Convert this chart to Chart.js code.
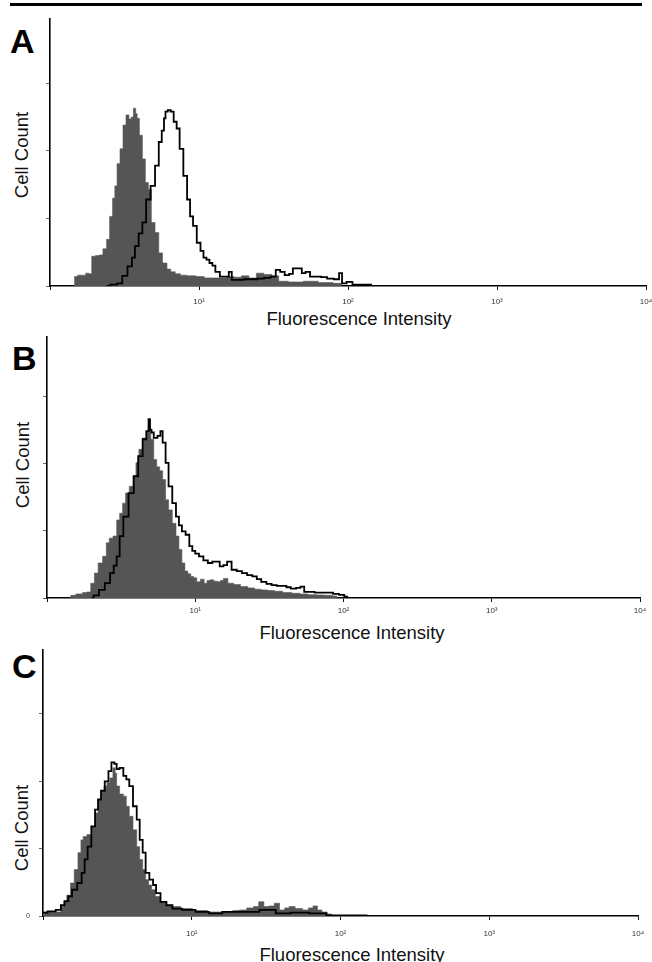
<!DOCTYPE html>
<html><head><meta charset="utf-8">
<script src="https://cdn.jsdelivr.net/npm/chart.js@4.4.1/dist/chart.umd.min.js"></script>
<style>
html,body{margin:0;padding:0;background:#fff;width:652px;height:962px;overflow:hidden;position:relative;}
canvas{position:absolute;left:0;}
.letter{position:absolute;font-family:"Liberation Sans",Arial,sans-serif;font-weight:bold;font-size:34px;line-height:34px;color:#000;}
.ytitle{position:absolute;font-family:"Liberation Sans",Arial,sans-serif;font-size:18.5px;color:#111;white-space:nowrap;transform:translate(-50%,-50%) rotate(-90deg);}
.xtitle{position:absolute;font-family:"Liberation Sans",Arial,sans-serif;font-size:18.5px;color:#111;white-space:nowrap;transform:translate(-50%,-50%);}
#rule{position:absolute;left:10px;top:3px;width:632px;height:3px;background:#000;}
</style></head><body>
<div id="rule"></div>
<div class="letter" style="left:10px;top:23.5px">A</div>
<div class="letter" style="left:12px;top:340.5px">B</div>
<div class="letter" style="left:12px;top:648.5px">C</div>
<div class="ytitle" style="left:22px;top:155px">Cell Count</div>
<div class="ytitle" style="left:23px;top:465px">Cell Count</div>
<div class="ytitle" style="left:22px;top:828px">Cell Count</div>
<div class="xtitle" style="left:359px;top:319px">Fluorescence Intensity</div>
<div class="xtitle" style="left:352px;top:633px">Fluorescence Intensity</div>
<div class="xtitle" style="left:352px;top:955px">Fluorescence Intensity</div>
<canvas id="cA" width="652" height="335" style="top:0px"></canvas>
<canvas id="cB" width="652" height="315" style="top:330px"></canvas>
<canvas id="cC" width="652" height="330" style="top:645px"></canvas>
<script>
// x values are log10 of fluorescence intensity (decades), y values are cell count (axis units)
const tickLabels = ['', '10\u00B9', '10\u00B2', '10\u00B3', '10\u2074'];

// Panel A
const aGrayX = [0.16,0.17,0.20,0.23,0.25,0.27,0.29,0.32,0.34,0.37,0.39,0.41,0.43,0.44,0.46,0.48,0.50,0.52,0.54,0.55,0.57,0.58,0.59,0.61,0.63,0.65,0.67,0.69,0.72,0.74,0.77,0.80,0.82,0.86,0.89,0.95,1.01,1.06,1.12,1.16,1.21,1.26,1.31,1.36,1.41,1.46,1.52,1.55,1.65,1.75,1.85,1.95,1.96];
const aGrayY = [0,0.14,0.16,0.16,0.19,0.18,0.44,0.45,0.46,0.55,0.69,1.03,1.30,1.48,1.81,2.03,2.38,2.53,2.47,2.50,2.63,2.55,2.48,2.23,1.88,1.53,1.43,0.94,0.79,0.49,0.34,0.25,0.21,0.18,0.16,0.15,0.14,0.12,0.12,0.12,0.14,0.13,0.15,0.12,0.19,0.17,0.15,0.07,0.06,0.07,0.05,0.04,0];
const aLineX = [0.38,0.43,0.47,0.50,0.54,0.56,0.58,0.61,0.63,0.66,0.69,0.72,0.74,0.76,0.77,0.78,0.80,0.82,0.84,0.86,0.88,0.91,0.93,0.95,0.97,1.00,1.02,1.04,1.06,1.08,1.10,1.12,1.16,1.19,1.21,1.23,1.28,1.32,1.37,1.41,1.46,1.50,1.53,1.56,1.59,1.62,1.64,1.68,1.70,1.73,1.76,1.80,1.84,1.88,1.93,1.95,1.97,2.01,2.05,2.10,2.15,2.16];
const aLineY = [0,0.02,0.04,0.15,0.29,0.42,0.59,0.78,0.94,1.28,1.48,1.78,2.13,2.30,2.48,2.58,2.60,2.58,2.43,2.33,2.03,1.63,1.28,1.03,0.89,0.64,0.52,0.42,0.39,0.34,0.30,0.21,0.14,0.14,0.21,0.09,0.09,0.10,0.10,0.11,0.12,0.14,0.24,0.21,0.16,0.18,0.26,0.26,0.19,0.21,0.14,0.14,0.13,0.11,0.10,0.19,0.04,0.06,0.02,0.02,0.02,0];

// Panel B
const bGrayX = [0.15,0.17,0.22,0.26,0.28,0.31,0.33,0.36,0.39,0.41,0.43,0.46,0.48,0.50,0.52,0.54,0.57,0.59,0.61,0.63,0.66,0.68,0.69,0.71,0.73,0.75,0.77,0.79,0.81,0.83,0.86,0.88,0.90,0.92,0.94,0.96,0.98,1.00,1.02,1.05,1.07,1.09,1.11,1.14,1.16,1.18,1.20,1.24,1.28,1.33,1.38,1.42,1.47,1.51,1.56,1.62,1.68,1.73,1.79,1.84,1.90,1.95,1.96];
const bGrayY = [0,0.04,0.06,0.08,0.09,0.22,0.37,0.52,0.62,0.82,0.89,0.92,1.16,1.26,1.41,1.56,1.66,1.81,2.01,2.21,2.38,2.48,2.53,2.36,2.06,1.95,1.89,1.76,1.46,1.31,1.11,0.92,0.72,0.52,0.40,0.36,0.32,0.30,0.24,0.28,0.22,0.26,0.27,0.25,0.24,0.26,0.29,0.22,0.20,0.17,0.15,0.13,0.12,0.11,0.10,0.08,0.07,0.06,0.05,0.045,0.04,0.03,0];
const bLineX = [0.30,0.33,0.37,0.41,0.44,0.46,0.48,0.50,0.53,0.57,0.60,0.63,0.66,0.68,0.69,0.70,0.71,0.73,0.76,0.77,0.79,0.81,0.83,0.86,0.88,0.90,0.92,0.95,0.97,0.99,1.01,1.04,1.07,1.10,1.13,1.15,1.18,1.20,1.23,1.26,1.30,1.33,1.37,1.40,1.43,1.46,1.50,1.53,1.57,1.60,1.63,1.66,1.70,1.72,1.75,1.79,1.82,1.87,1.91,1.95,1.99,2.02,2.03];
const bLineY = [0,0.04,0.12,0.22,0.37,0.48,0.62,0.92,1.21,1.56,1.81,2.11,2.36,2.48,2.66,2.50,2.46,2.38,2.41,2.48,2.31,2.01,1.66,1.41,1.21,1.08,0.99,0.94,0.77,0.70,0.66,0.62,0.56,0.52,0.54,0.54,0.47,0.49,0.54,0.42,0.40,0.37,0.34,0.32,0.28,0.24,0.21,0.19,0.18,0.18,0.16,0.14,0.15,0.17,0.09,0.09,0.08,0.08,0.08,0.06,0.045,0.02,0];

// Panel C
const cGrayX = [0.00,0.05,0.11,0.13,0.15,0.17,0.20,0.22,0.25,0.26,0.28,0.31,0.34,0.36,0.38,0.40,0.42,0.44,0.46,0.48,0.49,0.50,0.53,0.55,0.57,0.59,0.62,0.64,0.66,0.68,0.70,0.72,0.74,0.77,0.81,0.85,0.89,0.96,1.05,1.16,1.25,1.30,1.34,1.40,1.43,1.47,1.50,1.54,1.57,1.61,1.64,1.67,1.72,1.77,1.80,1.83,1.86,1.89,1.93,1.95,1.96];
const cGrayY = [0.06,0.06,0.06,0.14,0.22,0.31,0.49,0.69,0.94,1.13,1.18,1.21,1.33,1.53,1.73,1.86,1.93,1.98,2.05,2.20,2.12,1.93,1.81,1.78,1.63,1.48,1.28,1.03,0.84,0.69,0.54,0.46,0.39,0.29,0.21,0.16,0.14,0.11,0.08,0.06,0.06,0.08,0.09,0.12,0.14,0.21,0.14,0.15,0.19,0.09,0.12,0.14,0.11,0.09,0.12,0.15,0.09,0.06,0.03,0.01,0];
const cLineX = [0.00,0.06,0.11,0.13,0.16,0.18,0.21,0.25,0.27,0.29,0.31,0.34,0.36,0.38,0.40,0.43,0.45,0.47,0.49,0.50,0.53,0.55,0.57,0.59,0.62,0.64,0.66,0.68,0.70,0.73,0.75,0.77,0.81,0.85,0.89,0.98,1.07,1.16,1.25,1.39,1.52,1.61,1.72,1.86,1.95,2.05,2.17,2.18];
const cLineY = [0.05,0.07,0.09,0.16,0.22,0.29,0.39,0.49,0.64,0.84,1.03,1.33,1.58,1.73,1.86,2.00,2.15,2.28,2.26,2.18,2.20,2.08,2.03,1.93,1.63,1.43,1.13,0.94,0.64,0.54,0.46,0.34,0.21,0.16,0.11,0.09,0.06,0.04,0.06,0.06,0.09,0.04,0.05,0.04,0.01,0.01,0.01,0];

const FONT = '"Liberation Sans", Arial, sans-serif';
function pts(xs, ys){ return xs.map((x,i)=>({x:x, y:ys[i]})); }

function panel(p){
  return new Chart(document.getElementById(p.id), {
    type:'line',
    data:{datasets:[
      {data:pts(p.lx,p.ly), stepped:'middle', fill:false, borderColor:'#000', borderWidth:1.8, pointRadius:0, order:0},
      {data:pts(p.gx,p.gy), stepped:'middle', fill:'origin', backgroundColor:'#555555', borderColor:'#555555', borderWidth:0.6, pointRadius:0, order:1}
    ]},
    options:{
      responsive:false, animation:false, devicePixelRatio:1,
      layout:{padding:p.pad},
      plugins:{legend:{display:false}, tooltip:{enabled:false}},
      scales:{
        x:{type:'linear', min:0, max:4,
          ticks:{stepSize:1, autoSkip:false, maxRotation:0, padding:p.tickPad, color:'#333', font:{family:FONT,size:8},
            callback:(v)=> tickLabels[Math.round(v)] },
          grid:{display:true, drawOnChartArea:false, drawTicks:true, tickLength:4, tickColor:'#111', tickWidth:1},
          border:{display:true, color:'#000', width:1.6},
          title:{display:false},
          afterFit:(s)=>{ s.height = p.xH; s.paddingLeft = 0; s.paddingRight = 0; }
        },
        y:{min:0, max:p.ymax,
          ticks:{stepSize:1, includeBounds:false, padding:9, color:'#333', font:{family:FONT,size:7},
            callback:(v)=> (p.zero && v===0) ? '0' : '' },
          grid:{display:true, drawOnChartArea:false, drawTicks:true, tickLength:4, tickColor:'#666', tickWidth:1},
          border:{display:true, color:'#000', width:1.6},
          afterFit:(s)=>{ s.width = p.yW; s.paddingTop = 0; s.paddingBottom = 0; }
        }
      }
    }
  });
}

panel({id:'cA', gx:aGrayX, gy:aGrayY, lx:aLineX, ly:aLineY, ymax:3.95, pad:{top:19,right:6,left:0,bottom:0}, yW:50, xH:49, tickPad:6.5, zero:false});
panel({id:'cB', gx:bGrayX, gy:bGrayY, lx:bLineX, ly:bLineY, ymax:3.88, pad:{top:7,right:12,left:0,bottom:0}, yW:47, xH:47, tickPad:3.5, zero:false});
panel({id:'cC', gx:cGrayX, gy:cGrayY, lx:cLineX, ly:cLineY, ymax:3.95, pad:{top:5,right:14,left:0,bottom:0}, yW:43, xH:59, tickPad:8.5, zero:true});
</script>
</body></html>
